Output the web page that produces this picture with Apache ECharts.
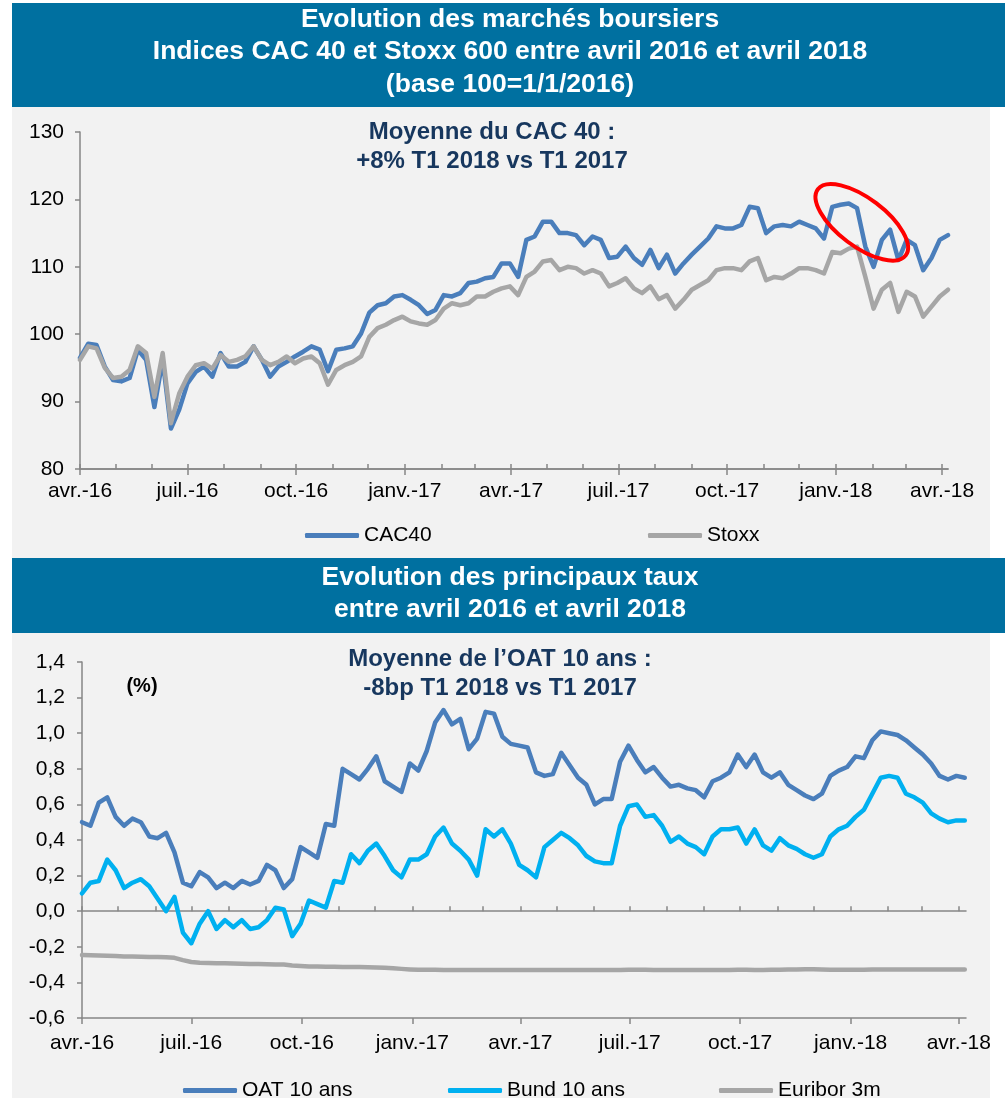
<!DOCTYPE html>
<html>
<head>
<meta charset="utf-8">
<script src="https://cdn.jsdelivr.net/npm/echarts@6/dist/echarts.min.js"></script>
<style>
  html, body { margin: 0; padding: 0; background: #fff; }
  #main { width: 1005px; height: 1098px; }
</style>
</head>
<body>
<div id="main"></div>
<script>
// points hebdo (vendredis) depuis le 1er avril 2016
const weeks = [];
for (let i = 0; i < 106; i++) weeks.push(new Date(2016, 3, 1 + 7 * i).getTime());

// indices base 100
const cac40 = [
  96.5, 98.6, 98.4, 95.2, 93.2, 93.0, 93.5, 97.7, 96.2, 89.2,
  96.2, 86.0, 88.8, 92.7, 94.4, 95.2, 93.7, 97.2, 95.2, 95.2,
  95.9, 98.2, 96.2, 93.7, 95.2, 95.9, 96.7, 97.4, 98.2, 97.7,
  94.5, 97.7, 97.9, 98.2, 100.1, 103.2, 104.3, 104.6, 105.6, 105.8,
  105.1, 104.3, 103.0, 103.6, 105.8, 105.6, 106.1, 107.6, 107.8, 108.3,
  108.5, 110.5, 110.5, 108.5, 114.0, 114.5, 116.7, 116.7, 115.0, 115.0,
  114.7, 113.2, 114.5, 114.0, 111.3, 111.5, 113.0, 111.3, 110.3, 112.5,
  109.8, 111.8, 109.0, 110.5, 111.8, 113.0, 114.2, 116.0, 115.7, 115.7,
  116.2, 118.9, 118.7, 115.0, 116.0, 116.2, 116.0, 116.7, 116.2, 115.7,
  114.2, 118.9, 119.2, 119.4, 118.7, 113.0, 110.0, 114.0, 115.5, 111.0,
  114.0, 113.2, 109.5, 111.3, 114.0, 114.7
];
const stoxx = [
  96.2, 98.2, 97.9, 95.0, 93.5, 93.7, 94.7, 98.2, 97.2, 90.7,
  97.2, 86.8, 91.2, 93.7, 95.4, 95.7, 94.9, 96.9, 95.9, 96.2,
  96.7, 98.2, 96.2, 95.4, 95.9, 96.7, 95.7, 96.4, 96.7, 95.7,
  92.5, 94.7, 95.4, 95.9, 96.7, 99.6, 100.9, 101.4, 102.1, 102.6,
  101.9, 101.6, 101.4, 102.1, 103.8, 104.6, 104.3, 104.6, 105.6, 105.6,
  106.3, 106.8, 107.1, 105.8, 108.5, 109.3, 110.8, 111.0, 109.5, 110.0,
  109.8, 109.0, 109.5, 109.0, 107.1, 107.6, 108.3, 106.8, 106.1, 107.1,
  105.2, 105.8, 103.8, 105.1, 106.6, 107.3, 108.0, 109.5, 109.8, 109.8,
  109.5, 110.8, 111.3, 108.0, 108.5, 108.3, 109.0, 109.8, 109.8, 109.5,
  109.0, 112.2, 112.0, 112.7, 113.0, 108.5, 103.8, 106.6, 107.6, 103.3,
  106.3, 105.6, 102.6, 104.1, 105.6, 106.6
];

// taux en %
const oat10 = [
  0.50, 0.48, 0.61, 0.64, 0.53, 0.48, 0.52, 0.50, 0.42, 0.41,
  0.44, 0.33, 0.16, 0.14, 0.22, 0.19, 0.13, 0.16, 0.13, 0.17,
  0.15, 0.17, 0.26, 0.23, 0.13, 0.18, 0.36, 0.33, 0.30, 0.49,
  0.48, 0.80, 0.77, 0.74, 0.80, 0.87, 0.73, 0.70, 0.67, 0.83,
  0.79, 0.90, 1.06, 1.13, 1.05, 1.08, 0.91, 0.97, 1.12, 1.11,
  0.98, 0.94, 0.93, 0.92, 0.78, 0.76, 0.77, 0.89, 0.82, 0.75,
  0.71, 0.60, 0.63, 0.63, 0.84, 0.93, 0.85, 0.78, 0.81, 0.75,
  0.70, 0.71, 0.69, 0.68, 0.64, 0.73, 0.75, 0.78, 0.88, 0.81,
  0.88, 0.78, 0.75, 0.78, 0.71, 0.68, 0.65, 0.63, 0.66, 0.76,
  0.79, 0.81, 0.87, 0.86, 0.96, 1.01, 1.00, 0.99, 0.96, 0.92,
  0.88, 0.83, 0.76, 0.74, 0.76, 0.75
];
const bund10 = [
  0.10, 0.16, 0.17, 0.29, 0.23, 0.13, 0.16, 0.18, 0.14, 0.07,
  0.00, 0.08, -0.12, -0.18, -0.07, 0.00, -0.10, -0.05, -0.09, -0.05,
  -0.10, -0.09, -0.05, 0.02, 0.01, -0.14, -0.07, 0.06, 0.04, 0.02,
  0.17, 0.16, 0.32, 0.27, 0.34, 0.38, 0.31, 0.23, 0.19, 0.29,
  0.29, 0.32, 0.42, 0.47, 0.38, 0.34, 0.29, 0.20, 0.46, 0.42,
  0.46, 0.38, 0.26, 0.23, 0.19, 0.36, 0.40, 0.44, 0.41, 0.37,
  0.31, 0.28, 0.27, 0.27, 0.48, 0.59, 0.60, 0.53, 0.54, 0.48,
  0.39, 0.42, 0.38, 0.36, 0.32, 0.42, 0.46, 0.46, 0.47, 0.38,
  0.46, 0.37, 0.34, 0.41, 0.37, 0.35, 0.32, 0.30, 0.32, 0.42,
  0.46, 0.48, 0.53, 0.57, 0.66, 0.75, 0.76, 0.75, 0.66, 0.64,
  0.61, 0.55, 0.52, 0.50, 0.51, 0.51
];
const euribor3m = [
  -0.246, -0.248, -0.249, -0.250, -0.252, -0.254, -0.255, -0.256, -0.257, -0.258,
  -0.259, -0.262, -0.275, -0.285, -0.290, -0.291, -0.292, -0.293, -0.294, -0.295,
  -0.296, -0.297, -0.298, -0.299, -0.300, -0.305, -0.308, -0.310, -0.311, -0.312,
  -0.312, -0.313, -0.313, -0.314, -0.315, -0.316, -0.318, -0.320, -0.324, -0.327,
  -0.329, -0.329, -0.329, -0.330, -0.330, -0.330, -0.330, -0.331, -0.331, -0.330,
  -0.330, -0.330, -0.330, -0.330, -0.331, -0.331, -0.331, -0.330, -0.330, -0.330,
  -0.330, -0.330, -0.330, -0.330, -0.330, -0.329, -0.329, -0.329, -0.330, -0.330,
  -0.330, -0.330, -0.330, -0.330, -0.330, -0.330, -0.330, -0.330, -0.329, -0.329,
  -0.330, -0.330, -0.329, -0.329, -0.328, -0.327, -0.326, -0.326, -0.328, -0.329,
  -0.329, -0.329, -0.329, -0.329, -0.328, -0.328, -0.328, -0.328, -0.328, -0.328,
  -0.328, -0.328, -0.328, -0.328, -0.328, -0.328
];

// graduations : mois (petites) et trimestres (libellés)
const monthTicks = [];
for (let m = 0; m <= 24; m++) monthTicks.push(new Date(2016, 3 + m, 1).getTime());
const quarterTicks = monthTicks.filter((t, i) => i % 3 === 0);
const moisFr = ['janv.', 'févr.', 'mars', 'avr.', 'mai', 'juin', 'juil.', 'août', 'sept.', 'oct.', 'nov.', 'déc.'];

const FONT = '"Liberation Sans", Arial, sans-serif';
const AXIS_GREY = '#868686';
const BLUE = '#4a7ebb';
const GREY = '#a6a6a6';
const CYAN = '#00b0f0';
const NAVY = '#17375e';
const BANNER = '#0070a0';

const dateLabel = v => {
  const d = new Date(v);
  return moisFr[d.getMonth()] + '-' + String(d.getFullYear()).slice(2);
};

const chart = echarts.init(document.getElementById('main'));

// axes x (dates en ms) : ligne + petites graduations, grandes graduations trimestrielles, libellés
function dateAxes(gridIndex, max, withLabels) {
  const min = new Date(2016, 3, 1).getTime();
  const base = { type: 'value', gridIndex, min, max, position: 'bottom', splitLine: { show: false } };
  return [
    Object.assign({}, base, {
      axisLine: { show: true, onZero: true, lineStyle: { color: AXIS_GREY, width: 1.5 } },
      axisTick: { show: true, inside: true, length: 5, customValues: monthTicks, lineStyle: { color: AXIS_GREY, width: 1.5 } },
      axisLabel: { show: false }
    }),
    Object.assign({}, base, {
      axisLine: { show: true, onZero: true, lineStyle: { color: AXIS_GREY, width: 1.5 } },
      axisTick: { show: true, inside: false, length: 6, customValues: quarterTicks, lineStyle: { color: AXIS_GREY, width: 1.5 } },
      axisLabel: withLabels ? {
        show: true, customValues: quarterTicks, formatter: dateLabel, margin: 12,
        fontSize: 21, color: '#000', fontFamily: FONT
      } : { show: false }
    })
  ];
}

const xAxes = dateAxes(0, new Date(2018, 3, 6).getTime(), true)
  .concat(dateAxes(1, new Date(2018, 3, 7).getTime(), false))
  .concat([{
    type: 'value', gridIndex: 1, position: 'bottom',
    min: new Date(2016, 3, 1).getTime(), max: new Date(2018, 3, 7).getTime(),
    axisLine: { show: false, onZero: false }, axisTick: { show: false }, splitLine: { show: false },
    axisLabel: { show: true, customValues: quarterTicks, formatter: dateLabel, margin: 15, fontSize: 21, color: '#000', fontFamily: FONT }
  }]);

function lineSeries(name, values, color, xIdx, yIdx) {
  return {
    name, type: 'line', xAxisIndex: xIdx, yAxisIndex: yIdx,
    data: weeks.map((t, i) => [t, values[i]]),
    showSymbol: false, symbol: 'none',
    lineStyle: { width: 4.5, color, cap: 'round', join: 'round' },
    itemStyle: { color }
  };
}

function legend(name, left, top) {
  return {
    data: [name], left, top, padding: 0, icon: 'roundRect',
    itemWidth: 54, itemHeight: 5, selectedMode: false,
    textStyle: { fontSize: 21, color: '#000', fontFamily: FONT }
  };
}

const option = {
  animation: false,
  backgroundColor: '#fff',
  grid: [
    { left: 80, top: 132, width: 868, height: 337, outerBoundsMode: 'none' },
    { left: 82, top: 662, width: 884, height: 356, outerBoundsMode: 'none' }
  ],
  xAxis: xAxes,
  yAxis: [
    {
      type: 'value', gridIndex: 0, min: 80, max: 130, interval: 10,
      axisLine: { show: true, lineStyle: { color: AXIS_GREY, width: 1.5 } },
      axisTick: { show: true, length: 5, lineStyle: { color: AXIS_GREY, width: 1.5 } },
      splitLine: { show: false },
      axisLabel: { margin: 16, fontSize: 21, color: '#000', fontFamily: FONT }
    },
    {
      type: 'value', gridIndex: 1, min: -0.6, max: 1.4, interval: 0.2,
      axisLine: { show: true, lineStyle: { color: AXIS_GREY, width: 1.5 } },
      axisTick: { show: true, length: 5, lineStyle: { color: AXIS_GREY, width: 1.5 } },
      splitLine: { show: false },
      axisLabel: {
        margin: 17, fontSize: 21, color: '#000', fontFamily: FONT,
        formatter: v => (Math.abs(v) < 1e-9 ? 0 : v).toFixed(1).replace('.', ',')
      }
    }
  ],
  legend: [
    legend('CAC40', 305, 525),
    legend('Stoxx', 648, 525),
    legend('OAT 10 ans', 183, 1080),
    legend('Bund 10 ans', 448, 1080),
    legend('Euribor 3m', 719, 1080)
  ],
  series: [
    lineSeries('CAC40', cac40, BLUE, 0, 0),
    lineSeries('Stoxx', stoxx, GREY, 0, 0),
    lineSeries('Euribor 3m', euribor3m, GREY, 2, 1),
    lineSeries('Bund 10 ans', bund10, CYAN, 2, 1),
    lineSeries('OAT 10 ans', oat10, BLUE, 2, 1)
  ]
};

chart.setOption(option);

function txt(text, x, y, size, color) {
  return {
    type: 'text', x, y, silent: true,
    style: {
      text, fill: color, font: 'bold ' + size + 'px ' + FONT,
      align: 'center', textAlign: 'center',
      verticalAlign: 'middle', textVerticalAlign: 'middle'
    }
  };
}

// ellipse rouge autour du pic de janvier 2018
const ellipseAnchor = [new Date(2018, 0, 23).getTime(), 116.6];
const ec = chart.convertToPixel({ seriesIndex: 0 }, ellipseAnchor);

chart.setOption({
  graphic: [
    { type: 'rect', z: -10, silent: true, shape: { x: 12, y: 100, width: 978, height: 998 }, style: { fill: '#f2f2f2' } },
    { type: 'rect', z: -9, silent: true, shape: { x: 12, y: 3, width: 993, height: 104 }, style: { fill: BANNER } },
    { type: 'rect', z: -9, silent: true, shape: { x: 12, y: 558, width: 993, height: 75 }, style: { fill: BANNER } },
    txt('Evolution des marchés boursiers', 510, 20, 26.5, '#fff'),
    txt('Indices CAC 40 et Stoxx 600 entre avril 2016 et avril 2018', 510, 52, 26.5, '#fff'),
    txt('(base 100=1/1/2016)', 510, 85, 26.5, '#fff'),
    txt('Evolution des principaux taux', 510, 578, 26.5, '#fff'),
    txt('entre avril 2016 et avril 2018', 510, 610, 26.5, '#fff'),
    txt('Moyenne du CAC 40 :', 492, 132, 24, NAVY),
    txt('+8% T1 2018 vs T1 2017', 492, 161, 24, NAVY),
    txt('Moyenne de l’OAT 10 ans :', 500, 659, 24, NAVY),
    txt('-8bp T1 2018 vs T1 2017', 500, 688, 24, NAVY),
    txt('(%)', 142, 686, 20, '#000'),
    {
      type: 'ellipse', silent: true, z: 10,
      x: ec[0], y: ec[1], rotation: -37 * Math.PI / 180,
      shape: { cx: 0, cy: 0, rx: 55, ry: 24 },
      style: { fill: 'rgba(0,0,0,0)', stroke: '#ff0000', lineWidth: 4 }
    }
  ]
});
</script>
</body>
</html>
